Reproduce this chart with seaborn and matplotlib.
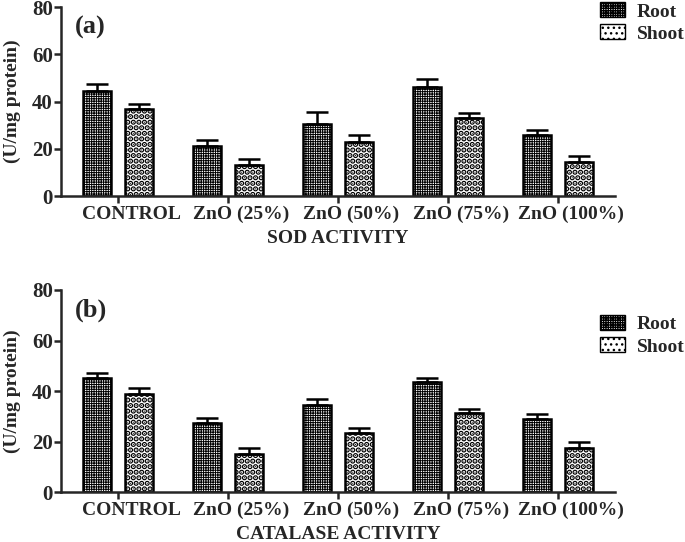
import numpy as np
import pandas as pd
import matplotlib
matplotlib.use('Agg')
import matplotlib.pyplot as plt
import matplotlib.transforms as mtransforms
import seaborn as sns

# values (mean and upper error)
groups = ['CONTROL', 'ZnO (25%)', 'ZnO (50%)', 'ZnO (75%)', 'ZnO (100%)']
tissues = ['Root', 'Shoot']

sod_root = [44.7, 21.2, 30.6, 46.1, 25.8]
sod_root_err = [2.8, 2.4, 4.9, 3.4, 2.2]
sod_shoot = [36.7, 13.4, 23.1, 33.0, 14.4]
sod_shoot_err = [2.1, 2.4, 2.9, 2.0, 2.6]

cat_root = [45.1, 27.3, 34.5, 43.7, 29.1]
cat_root_err = [1.9, 2.2, 2.3, 1.4, 1.7]
cat_shoot = [38.9, 15.0, 23.5, 31.2, 17.4]
cat_shoot_err = [2.2, 2.4, 1.8, 1.7, 2.4]

hatches = {'Root': '+++++++', 'Shoot': '...'}
hatch_lw = {'Root': 0.7, 'Shoot': 2.8}

sns.set_style('ticks')
plt.rcParams['font.family'] = ['Liberation Serif', 'DejaVu Serif']
plt.rcParams['font.weight'] = 'bold'
plt.rcParams['axes.labelweight'] = 'bold'
plt.rcParams['hatch.color'] = 'black'


def style_hatch(patch, t):
    patch.set_hatch(hatches[t])
    if hasattr(patch, 'set_hatch_linewidth'):
        patch.set_hatch_linewidth(hatch_lw[t])


def make_df(root, root_err, shoot, shoot_err):
    rows = []
    for i, g in enumerate(groups):
        rows.append({'group': g, 'tissue': 'Root', 'value': root[i], 'err': root_err[i]})
        rows.append({'group': g, 'tissue': 'Shoot', 'value': shoot[i], 'err': shoot_err[i]})
    return pd.DataFrame(rows)


def draw_panel(fig, ax, df, letter, xlabel, legend_y):
    sns.barplot(data=df, x='group', y='value', hue='tissue', hue_order=tissues,
                order=groups, width=0.76, gap=0.33, errorbar=None,
                palette=['white', 'white'], edgecolor='black', linewidth=1.8,
                legend=False, ax=ax)
    # hatches + error bars from the drawn bars
    for container, t in zip(ax.containers, tissues):
        sub = df[df['tissue'] == t].set_index('group').loc[groups]
        xs, ys = [], []
        for bar in container:
            style_hatch(bar, t)
            xs.append(bar.get_x() + bar.get_width() / 2)
            ys.append(bar.get_height())
        errs = sub['err'].values
        ax.errorbar(xs, ys, yerr=[np.zeros_like(errs), errs], fmt='none',
                    ecolor='black', elinewidth=1.8, capsize=8, capthick=1.8, zorder=3)
    ax.set_ylim(0, 80)
    ax.set_yticks([0, 20, 40, 60, 80])
    ax.set_xlim(-0.52, 4.52)
    ax.set_ylabel('(U/mg protein)', fontsize=14)
    ax.yaxis.set_label_coords(-0.072, 0.5)
    ax.set_xlabel(xlabel, fontsize=14, labelpad=5)
    ax.tick_params(axis='x', labelsize=14, width=1.8, length=5, pad=2)
    ax.tick_params(axis='y', labelsize=15, width=1.8, length=5, pad=1)
    # tick labels in the original sit a bit right of the ticks
    shift = mtransforms.ScaledTranslation(0.13, 0, fig.dpi_scale_trans)
    for lab in ax.get_xticklabels():
        lab.set_fontweight('bold')
        lab.set_transform(lab.get_transform() + shift)
    for lab in ax.get_yticklabels():
        lab.set_fontweight('bold')
    for s in ['left', 'bottom']:
        ax.spines[s].set_linewidth(1.8)
    sns.despine(ax=ax)
    ax.text(0.025, 0.955, letter, transform=ax.transAxes, fontsize=19,
            fontweight='bold', va='top', ha='left')
    handles = []
    for t in tissues:
        p = matplotlib.patches.Patch(facecolor='white', edgecolor='black', label=t)
        style_hatch(p, t)
        handles.append(p)
    leg = ax.legend(handles=handles, loc='upper left', bbox_to_anchor=(0.972, legend_y),
                    frameon=False, fontsize=14, handlelength=1.3, handleheight=0.8,
                    handletextpad=0.6, borderaxespad=0, borderpad=0, labelspacing=0.2)
    for txt in leg.get_texts():
        txt.set_fontweight('bold')


fig = plt.figure(figsize=(6.85, 5.42), dpi=100)
ax1 = fig.add_axes([0.089, 0.638, 0.809, 0.349])
ax2 = fig.add_axes([0.089, 0.092, 0.809, 0.373])

draw_panel(fig, ax1, make_df(sod_root, sod_root_err, sod_shoot, sod_shoot_err),
           '(a)', 'SOD ACTIVITY', 1.025)
draw_panel(fig, ax2, make_df(cat_root, cat_root_err, cat_shoot, cat_shoot_err),
           '(b)', 'CATALASE ACTIVITY', 0.875)

fig.savefig('out.png', dpi=100)
